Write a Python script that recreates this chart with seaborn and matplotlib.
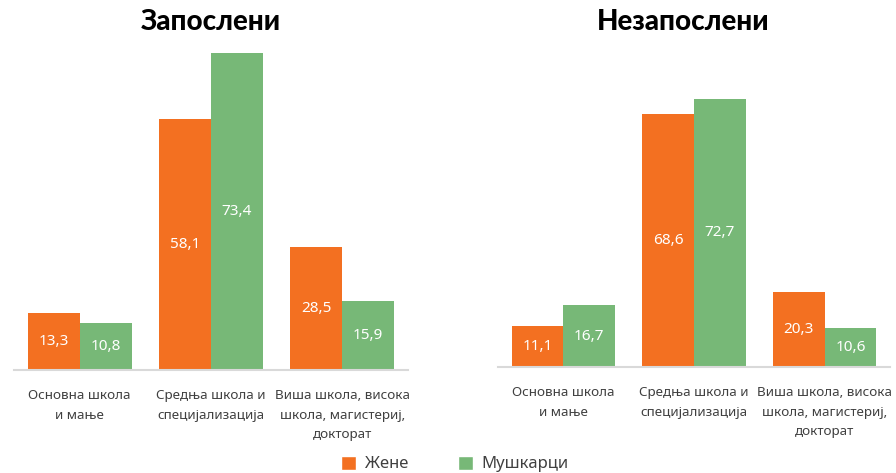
import matplotlib
matplotlib.use("Agg")
import matplotlib.pyplot as plt
from matplotlib.patches import Patch
import pandas as pd
import seaborn as sns

# Education levels and shares (%) by sex
categories = ["Основна школа\nи мање",
              "Средња школа и\nспецијализација",
              "Виша школа, висока\nшкола, магистериј,\nдокторат"]
sexes = ["Жене", "Мушкарци"]
employed_women = [13.3, 58.1, 28.5]
employed_men = [10.8, 73.4, 15.9]
unemployed_women = [11.1, 68.6, 20.3]
unemployed_men = [16.7, 72.7, 10.6]
panel_titles = ["Запослени", "Незапослени"]

colors = {"Жене": "#F37021", "Мушкарци": "#77B877"}

sns.set_theme(style="white")
plt.rcParams["font.family"] = ["Noto Sans", "DejaVu Sans"]


def long_frame(women, men):
    rows = []
    for cat, w, m in zip(categories, women, men):
        rows.append({"category": cat, "sex": sexes[0], "value": w})
        rows.append({"category": cat, "sex": sexes[1], "value": m})
    return pd.DataFrame(rows)


fig = plt.figure(figsize=(8.96, 4.73), dpi=100)
W, H = 896, 473

panels = [
    (long_frame(employed_women, employed_men), (14, 408, 370, 40), 76.4, 211),
    (long_frame(unemployed_women, unemployed_men), (498, 890, 367, 40), 88.6, 683),
]

for (df, (x0, x1, yb, yt), ymax, tx), title in zip(panels, panel_titles):
    ax = fig.add_axes([x0 / W, (H - yb) / H, (x1 - x0) / W, (yb - yt) / H])
    sns.barplot(data=df, x="category", y="value", hue="sex", order=categories,
                hue_order=sexes, palette=colors, width=0.79, saturation=1,
                linewidth=0, ax=ax, legend=False)
    ax.set_xlim(-0.5, 2.5)
    ax.set_ylim(0, ymax)
    for cont in ax.containers:
        ax.bar_label(cont, labels=[f"{v:.1f}".replace(".", ",") for v in cont.datavalues],
                     label_type="center", color="white", fontsize=11)
    ax.set_xlabel("")
    ax.set_ylabel("")
    ax.set_yticks([])
    ax.tick_params(axis="x", length=0, pad=14, labelsize=9.7, labelcolor="#404040")
    for lbl in ax.get_xticklabels():
        lbl.set_linespacing(1.62)
    for s in ["top", "right", "left"]:
        ax.spines[s].set_visible(False)
    ax.spines["bottom"].set_color("#D9D9D9")
    ax.spines["bottom"].set_linewidth(1.5)
    fig.text(tx / W, (H - 22) / H, title, ha="center", va="center",
             fontsize=20, fontweight="black", family=["Lato", "DejaVu Sans"],
             color="black")

handles = [Patch(facecolor=colors[s], label=s) for s in sexes]
fig.legend(handles=handles, loc="center", bbox_to_anchor=(455 / W, (H - 464) / H),
           ncol=2, frameon=False, fontsize=12, handlelength=0.9, handleheight=0.9,
           columnspacing=3.0, handletextpad=0.5, labelcolor="#404040")

fig.savefig("out.png", dpi=100)
